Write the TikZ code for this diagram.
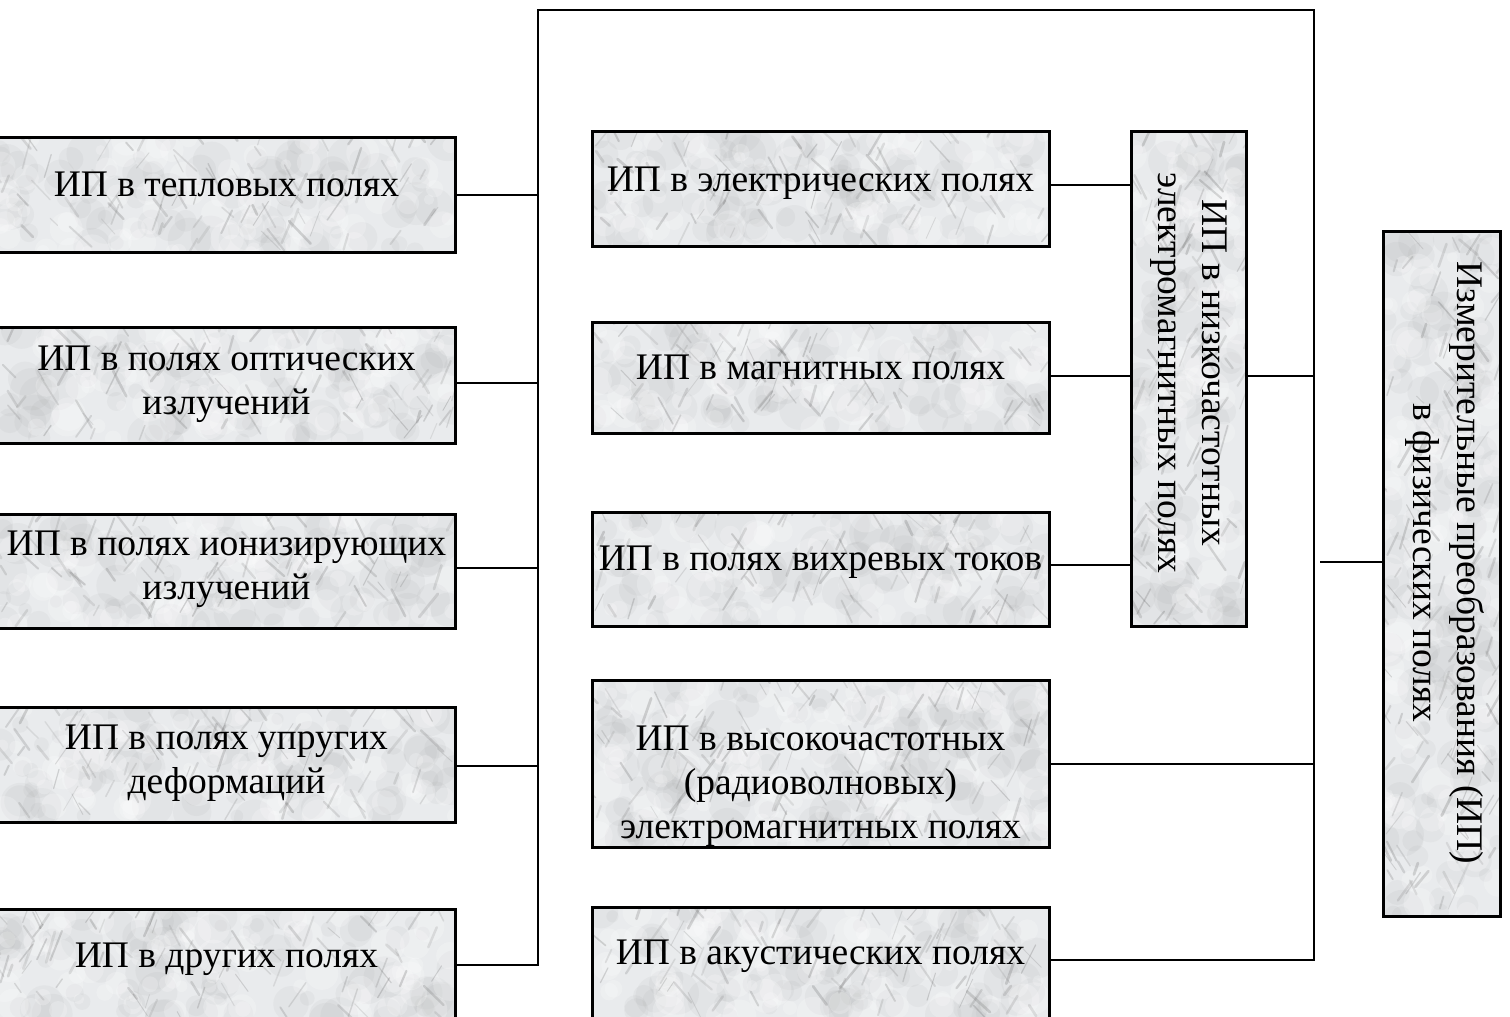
\documentclass[tikz,border=0pt]{standalone}
\usepackage{fontspec}
\setmainfont{Liberation Serif}
\definecolor{marblebase}{RGB}{233,235,237}
\newcommand\mystrut{\rule[-9pt]{0pt}{42pt}}
\newcommand\marblefill{%
  \pgfpointanchor{path picture bounding box}{south west}\pgfgetlastxy{\mbxa}{\mbya}%
  \pgfpointanchor{path picture bounding box}{north east}\pgfgetlastxy{\mbxb}{\mbyb}%
  \pgfmathsetmacro\mbx{\mbxa}%
  \pgfmathsetmacro\mby{\mbya}%
  \pgfmathsetmacro\mbw{\mbxb-\mbxa}%
  \pgfmathsetmacro\mbh{\mbyb-\mbya}%
  \pgfmathtruncatemacro\mbn{\mbw/10*\mbh/60}%
  \foreach \k in {1,...,\mbn}{%
    \pgfmathsetmacro\px{\mbx+rnd*\mbw}%
    \pgfmathsetmacro\py{\mby+rnd*\mbh}%
    \pgfmathsetmacro\pr{6+rnd*16}%
    \fill[black!45,opacity=0.07] (\px pt,\py pt) circle[radius=\pr pt];
  }%
  \foreach \k in {1,...,\mbn}{%
    \pgfmathsetmacro\px{\mbx+rnd*\mbw}%
    \pgfmathsetmacro\py{\mby+rnd*\mbh}%
    \pgfmathsetmacro\pr{5+rnd*12}%
    \fill[white,opacity=0.22] (\px pt,\py pt) circle[radius=\pr pt];
  }%
  \foreach \k in {1,...,\mbn}{%
    \pgfmathsetmacro\px{\mbx+rnd*\mbw}%
    \pgfmathsetmacro\py{\mby+rnd*\mbh}%
    \pgfmathsetmacro\pl{10+rnd*22}%
    \pgfmathsetmacro\pa{rnd<0.55 ? 50+rnd*25 : 115+rnd*25}%
    \pgfmathsetmacro\pw{0.8+rnd*2}%
    \pgfmathtruncatemacro\pg{40+rnd*30}%
    \draw[black!\pg,opacity=0.22,line width=\pw pt,line cap=round] (\px pt,\py pt) -- ++(\pa:\pl pt);
  }%
}
\begin{document}
\begin{tikzpicture}[x=1pt,y=-1pt,
  mbox/.style={draw=black,line width=3pt,fill=marblebase,inner sep=0pt,path picture={\marblefill}},
  txt/.style={inner sep=0pt,align=center,font=\fontsize{37.5}{44}\selectfont},
  conn/.style={draw=black,line width=2pt}]
\pgfmathsetseed{11}
\useasboundingbox (0,0) rectangle (1510,1017);
\fill[white] (0,0) rectangle (1510,1017);
\clip (0,0) rectangle (1510,1017);

% left column
\node[mbox,minimum width=457pt,minimum height=115pt] (th) at (226.5,194.5) {};
\node[mbox,minimum width=457pt,minimum height=116pt] (op) at (226.5,385) {};
\node[mbox,minimum width=457pt,minimum height=114pt] (io) at (226.5,571) {};
\node[mbox,minimum width=457pt,minimum height=115pt] (up) at (226.5,764.5) {};
\node[mbox,minimum width=457pt,minimum height=112pt] (ot) at (226.5,965) {};

% middle column
\node[mbox,minimum width=457pt,minimum height=115pt] (ee) at (820.5,188.5) {};
\node[mbox,minimum width=457pt,minimum height=111pt] (mg) at (820.5,377.5) {};
\node[mbox,minimum width=457pt,minimum height=114pt] (ed) at (820.5,569) {};
\node[mbox,minimum width=457pt,minimum height=167pt] (hf) at (820.5,763.5) {};
\node[mbox,minimum width=457pt,minimum height=112pt] (ac) at (820.5,963) {};

% vertical boxes
\node[mbox,minimum width=115pt,minimum height=495pt] (lf) at (1188.5,378.5) {};
\node[mbox,minimum width=117pt,minimum height=685pt] (bg) at (1441.5,573.5) {};

% texts
\node[txt] (thT) at (226.5,184) {\mystrut ИП в тепловых полях};
\node[txt] (opT) at (226.5,380) {\mystrut ИП в полях оптических\\\mystrut излучений};
\node[txt] (ioT) at (226.5,565) {\mystrut ИП в полях ионизирующих\\\mystrut излучений};
\node[txt] (upT) at (226.5,759) {\mystrut ИП в полях упругих\\\mystrut деформаций};
\node[txt] (otT) at (226.5,955) {\mystrut ИП в других полях};

\node[txt] (eeT) at (820.5,179) {\mystrut ИП в электрических полях};
\node[txt] (mgT) at (820.5,367) {\mystrut ИП в магнитных полях};
\node[txt] (edT) at (820.5,558) {\mystrut ИП в полях вихревых токов};
\node[txt] (hfT) at (820.5,782) {\mystrut ИП в высокочастотных\\\mystrut (радиоволновых)\\\mystrut электромагнитных полях};
\node[txt] (acT) at (820.5,952) {\mystrut ИП в акустических полях};

\node[txt,rotate=-90] (lfT) at (1192,373) {\mystrut ИП в низкочастотных\\\mystrut электромагнитных полях};
\node[txt,rotate=-90] (bgT) at (1447,563) {\mystrut Измерительные преобразования (ИП)\\\mystrut в физических полях};

% connectors
\coordinate (lt) at (538,10);
\coordinate (rt) at (1314,10);
\coordinate (bj) at (1320,562);

\draw[conn] (ot.east) -| (lt) -- (rt) |- ([yshift=3pt]ac.east);
\draw[conn] (th.east) -- (th.east -| lt);
\draw[conn] ([yshift=2pt]op.east) -- ([yshift=2pt]op.east -| lt);
\draw[conn] ([yshift=3pt]io.east) -- ([yshift=3pt]io.east -| lt);
\draw[conn] ([yshift=-1pt]up.east) -- ([yshift=-1pt]up.east -| lt);

\draw[conn] ([yshift=4pt]ee.east) -- ([yshift=4pt]ee.east -| lf.west);
\draw[conn] ([yshift=2pt]mg.east) -- ([yshift=2pt]mg.east -| lf.west);
\draw[conn] ([yshift=4pt]ed.east) -- ([yshift=4pt]ed.east -| lf.west);
\draw[conn] ([yshift=3pt]lf.east) -- ([yshift=3pt]lf.east -| rt);
\draw[conn] (hf.east) -- (hf.east -| rt);
\draw[conn] (bj) -- (bj -| bg.west);
\end{tikzpicture}
\end{document}
